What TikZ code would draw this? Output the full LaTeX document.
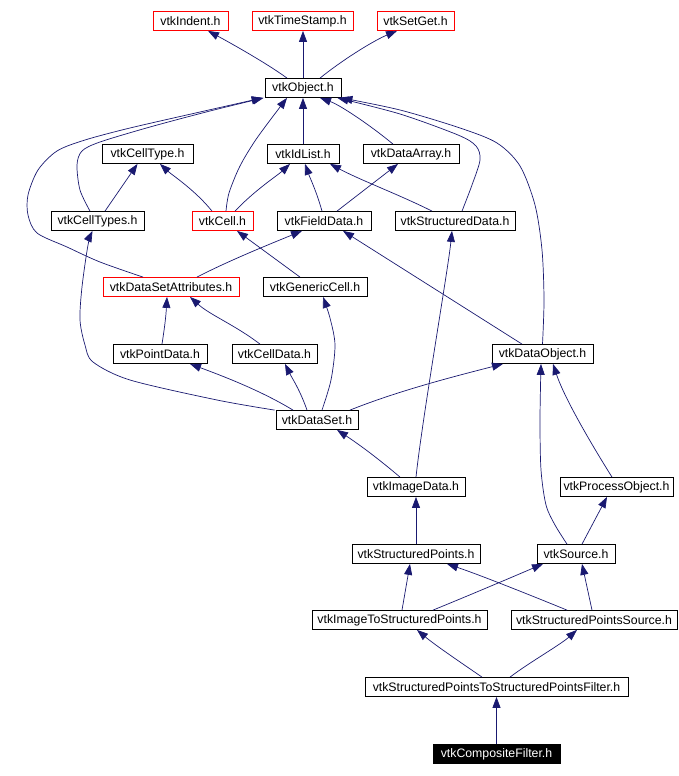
\documentclass[tikz,border=0pt]{standalone}
\usepackage{fontspec}
\setmainfont{Liberation Sans}
\usetikzlibrary{arrows.meta}
\definecolor{edgeblue}{HTML}{191970}
\definecolor{boxred}{HTML}{FF0000}
\begin{document}
\begin{tikzpicture}[x=1pt,y=-1pt,
  hbox/.style={draw=black, line width=0.8pt, fill=white, inner sep=0pt, minimum height=19pt, font=\fontsize{12.3}{14}\selectfont},
  redbox/.style={hbox, draw=boxred},
  mainbox/.style={hbox, fill=black, text=white},
  edge/.style={draw=edgeblue, line width=0.7pt, -{Triangle[length=11pt,width=8pt]}}]
\useasboundingbox (0,0) rectangle (678,776);

\node[redbox, minimum width=75pt] (indent) at (190.5,21) {vtkIndent.h};
\node[redbox, minimum width=101pt] (timestamp) at (302.5,21) {vtkTimeStamp.h};
\node[redbox, minimum width=77pt] (setget) at (415.5,21) {vtkSetGet.h};
\node[hbox, minimum width=76pt] (object) at (303,88) {vtkObject.h};
\node[hbox, minimum width=91pt] (celltype) at (147.5,154) {vtkCellType.h};
\node[hbox, minimum width=72pt] (idlist) at (303,154) {vtkIdList.h};
\node[hbox, minimum width=96pt] (dataarray) at (411,154) {vtkDataArray.h};
\node[hbox, minimum width=93pt] (celltypes) at (97.5,221) {vtkCellTypes.h};
\node[redbox, minimum width=61pt] (cell) at (222.5,221) {vtkCell.h};
\node[hbox, minimum width=94pt] (fielddata) at (324,221) {vtkFieldData.h};
\node[hbox, minimum width=120pt] (structdata) at (455,221) {vtkStructuredData.h};
\node[redbox, minimum width=136pt] (dsattr) at (171,287) {vtkDataSetAttributes.h};
\node[hbox, minimum width=104pt] (generic) at (315,287) {vtkGenericCell.h};
\node[hbox, minimum width=94pt] (pointdata) at (160,354) {vtkPointData.h};
\node[hbox, minimum width=85pt] (celldata) at (274.5,354) {vtkCellData.h};
\node[hbox, minimum width=101pt] (dataobject) at (542.5,354) {vtkDataObject.h};
\node[hbox, minimum width=82pt] (dataset) at (317,420) {vtkDataSet.h};
\node[hbox, minimum width=98pt] (imagedata) at (416,487) {vtkImageData.h};
\node[hbox, minimum width=113pt] (procobj) at (616.5,487) {vtkProcessObject.h};
\node[hbox, minimum width=128pt] (structpts) at (416,554) {vtkStructuredPoints.h};
\node[hbox, minimum width=78pt] (source) at (576,554) {vtkSource.h};
\node[hbox, minimum width=175pt] (imgtosp) at (399.5,620) {vtkImageToStructuredPoints.h};
\node[hbox, minimum width=166pt] (spsource) at (594,620) {vtkStructuredPointsSource.h};
\node[hbox, minimum width=263pt] (spfilter) at (496.5,687) {vtkStructuredPointsToStructuredPointsFilter.h};
\node[mainbox, minimum width=127pt] (composite) at (496.5,754) {vtkCompositeFilter.h};

% vtkObject parents
\draw[edge] ([xshift=-16pt]object.north) .. controls (265,62) and (225,40) .. ([xshift=17.5pt]indent.south);
\draw[edge] (object.north) -- (object.north |- timestamp.south);
\draw[edge] ([xshift=17pt]object.north) .. controls (345,58) and (375,40) .. ([xshift=-18.5pt]setget.south);

% into vtkObject
\draw[edge] plot[smooth] coordinates {([xshift=-7.5pt]celltypes.north) (80,190) (77,165) (82,151) (100,142) (150,127) (210,111) ([xshift=-1pt]object.south west)};
\draw[edge] plot[smooth] coordinates {([xshift=-28pt]dsattr.north) (100,262) (67,247) (37,233) (28,215) (28,195) (38,170) (57,151) (85,140) (130,128) (200,112) ([xshift=-2pt]object.south west)};
\draw[edge] plot[smooth] coordinates {([xshift=3.5pt]cell.north) (229,193) (240,166) (257,138) ([xshift=-16pt]object.south)};
\draw[edge] (idlist.north) -- (object.south);
\draw[edge] ([xshift=-18pt]dataarray.north) .. controls (370,125) and (340,105) .. ([xshift=17pt]object.south);
\draw[edge] plot[smooth] coordinates {([xshift=7pt]structdata.north) (472,185) (480,160) (476,146) (458,135) (400,114) ([xshift=-4pt]object.south east)};
\draw[edge] plot[smooth] coordinates {(dataobject.north) (544,300) (542,250) (535,205) (520,166) (497,143) (460,128) (400,110) (object.south east)};

% row 3/4
\draw[edge] ([xshift=7.5pt]celltypes.north) -- ([xshift=-10pt]celltype.south);
\draw[edge] ([xshift=-10.5pt]cell.north) .. controls (195,190) and (172,175) .. ([xshift=12.5pt]celltype.south);
\draw[edge] ([xshift=12.5pt]cell.north) .. controls (255,190) and (278,175) .. ([xshift=-13pt]idlist.south);
\draw[edge] ([xshift=-2pt]fielddata.north) .. controls (316,190) and (310,178) .. ([xshift=2pt]idlist.south);
\draw[edge] ([xshift=13pt]fielddata.north) -- ([xshift=-13pt]dataarray.south);
\draw[edge] ([xshift=-23pt]structdata.north) .. controls (400,195) and (360,180) .. ([xshift=27pt]idlist.south);

% row 5
\draw[edge] ([xshift=26pt]dsattr.north) .. controls (230,260) and (275,242) .. ([xshift=-22pt]fielddata.south);
\draw[edge] ([xshift=-15pt]generic.north) -- ([xshift=14.5pt]cell.south);
\draw[edge] ([xshift=-20.5pt]dataobject.north) -- ([xshift=19pt]fielddata.south);
\draw[edge] (imagedata.north) .. controls (422,420) and (448,270) .. ([xshift=-3pt]structdata.south);

% row 6/7
\draw[edge] plot[smooth] coordinates {([xshift=-1pt]dataset.north west) (217,400) (130,380) (93,362) (85,345) (80,320) (82,287) (88,245) ([xshift=-5pt]celltypes.south)};
\draw[edge] ([xshift=2pt]pointdata.north) .. controls (165,325) and (166,315) .. ([xshift=-4pt]dsattr.south);
\draw[edge] ([xshift=-14.5pt]celldata.north) .. controls (235,325) and (210,315) .. ([xshift=19pt]dsattr.south);
\draw[edge] plot[smooth] coordinates {([xshift=5pt]dataset.north) (331,380) (335,345) (330,318) ([xshift=8pt]generic.south)};
\draw[edge] ([xshift=-24pt]dataset.north) .. controls (260,390) and (220,375) .. ([xshift=30pt]pointdata.south);
\draw[edge] ([xshift=-10pt]dataset.north) .. controls (300,390) and (292,378) .. ([xshift=10.5pt]celldata.south);
\draw[edge] ([xshift=33pt]dataset.north) .. controls (400,390) and (460,375) .. ([xshift=-39.5pt]dataobject.south);
\draw[edge] ([xshift=-16pt]imagedata.north) .. controls (380,460) and (360,445) .. ([xshift=20pt]dataset.south);

% lower part
\draw[edge] plot[smooth] coordinates {([xshift=-9pt]source.north) (555,525) (546,505) (541,470) (540,420) ([xshift=-1.5pt]dataobject.south)};
\draw[edge] ([xshift=-4.5pt]procobj.north) .. controls (595,450) and (565,400) .. ([xshift=10.5pt]dataobject.south);
\draw[edge] ([xshift=6pt]source.north) -- ([xshift=-9.5pt]procobj.south);
\draw[edge] (structpts.north) -- (imagedata.south);
\draw[edge] ([xshift=2.5pt]imgtosp.north) -- ([xshift=-6pt]structpts.south);
\draw[edge] ([xshift=33.5pt]imgtosp.north) .. controls (470,595) and (510,578) .. ([xshift=-33pt]source.south);
\draw[edge] ([xshift=-27pt]spsource.north) .. controls (530,595) and (480,575) .. ([xshift=31pt]structpts.south);
\draw[edge] ([xshift=-2pt]spsource.north) -- ([xshift=6pt]source.south);
\draw[edge] ([xshift=-14.5pt]spfilter.north) .. controls (460,662) and (435,645) .. ([xshift=17.5pt]imgtosp.south);
\draw[edge] ([xshift=13.5pt]spfilter.north) .. controls (530,662) and (560,645) .. ([xshift=-17pt]spsource.south);
\draw[edge] (composite.north) -- (spfilter.south);
\end{tikzpicture}
\end{document}
